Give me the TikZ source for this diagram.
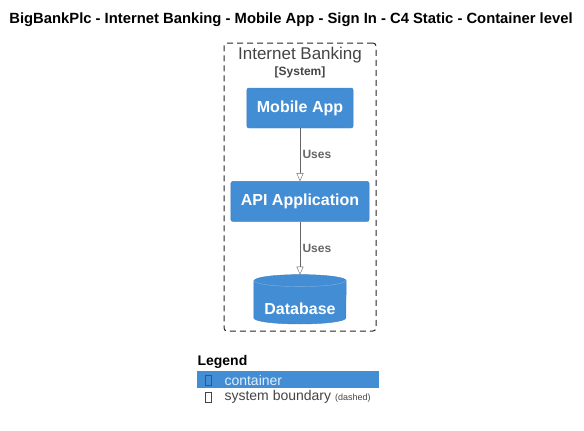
\documentclass[tikz,border=0pt]{standalone}
\usepackage{fontspec}
\setmainfont{Liberation Sans}
\usetikzlibrary{shapes.geometric, arrows.meta, positioning}
\definecolor{c4blue}{HTML}{438DD5}
\definecolor{c4edge}{HTML}{3C7FC0}
\definecolor{c4gray}{HTML}{666666}
\definecolor{c4dark}{HTML}{444444}
\tikzset{
  container/.style = {rectangle, fill=c4blue, draw=c4edge, rounded corners=2pt, text=white, font=\fontsize{16}{18}\selectfont\bfseries, minimum height=40pt, inner xsep=10pt},
  dbbox/.style = {rectangle, minimum width=92pt, minimum height=49pt, inner sep=0pt, text=white, font=\fontsize{16}{18}\selectfont\bfseries},
  boundary/.style = {rectangle, draw=black!85, line width=1pt, dash pattern=on 6pt off 4pt, rounded corners=3pt},
  connector/.style = {c4gray, -{Triangle[open, length=8pt, width=7pt]}},
  rel/.style = {text=c4gray, font=\fontsize{12}{14}\selectfont\bfseries},
  tofu/.style = {rectangle, draw, minimum width=6pt, minimum height=10pt, inner sep=0pt}
}
\begin{document}
\begin{tikzpicture}[x=1pt, y=-1pt, node distance=53pt]
  \useasboundingbox (0,0) rectangle (584,431);

  % Title
  \node (title) at (291,20) {\fontsize{14.8}{16}\selectfont\bfseries BigBankPlc - Internet Banking - Mobile App - Sign In - C4 Static - Container level};

  % System boundary
  \node (sys) [boundary, minimum width=152pt, minimum height=288pt] at (300,187) {};
  \node (sysname) [text=c4dark, font=\fontsize{17}{19}\selectfont] at (300,55) {Internet Banking};
  \node (systype) [text=c4dark, font=\fontsize{12}{14}\selectfont\bfseries] at (300,72) {[System]};

  % Containers
  \node (mobile) [container] at (300,108) {Mobile App};
  \node (api) [container, below=of mobile] {API Application};
  \node (db) [dbbox, below=of api] {};
  % cylinder body and cap
  \path[fill=c4blue, draw=c4edge]
    ([yshift=-6pt]db.north west) -- ([yshift=6pt]db.south west)
    arc[start angle=180, end angle=360, x radius=46pt, y radius=6pt]
    -- ([yshift=-6pt]db.north east)
    arc[start angle=0, end angle=180, x radius=46pt, y radius=6pt] -- cycle;
  \draw[white!30!c4blue] ([yshift=-6pt]db.north west)
    arc[start angle=180, end angle=360, x radius=46pt, y radius=6pt];
  \node (dbname) [text=white, font=\fontsize{16}{18}\selectfont\bfseries] at (300,309) {Database};

  % Relations
  \draw[connector] (mobile) -- node[rel, right=-1pt, pos=0.5] {Uses} (api);
  \draw[connector] (api) -- node[rel, right=-1pt, pos=0.5] {Uses} (db);

  % Legend
  \node (legend) [anchor=west, font=\fontsize{14}{16}\selectfont\bfseries] at (194,362) {Legend};
  \node (legbar) [rectangle, fill=c4blue, minimum width=182pt, minimum height=17pt, inner sep=0pt] at (288,379.5) {};
  \node (tofu1) [tofu, draw=c4edge!70!black] at (208,380) {};
  \node (legcont) [anchor=west, text=white!85!c4blue, font=\fontsize{14}{16}\selectfont] at (221,380) {container};
  \node (tofu2) [tofu, draw=c4dark] at (208,397) {};
  \node (legsys) [anchor=west, text=c4dark, font=\fontsize{14}{16}\selectfont] at (221,397) {system boundary {\fontsize{9}{10}\selectfont(dashed)}};
\end{tikzpicture}
\end{document}
